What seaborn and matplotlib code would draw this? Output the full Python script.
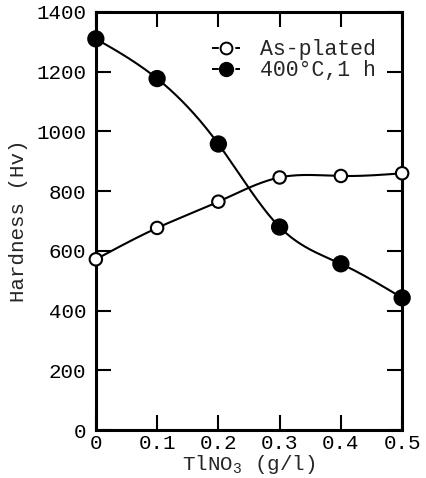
import numpy as np
import pandas as pd
import matplotlib
matplotlib.use("Agg")
import matplotlib.pyplot as plt
import seaborn as sns

conc = [0.0, 0.1, 0.2, 0.3, 0.4, 0.5]
as_plated = [572, 677, 765, 846, 851, 860]
annealed = [1310, 1177, 958, 680, 557, 443]
series_names = ["As-plated", "400°C,1 h"]


def smooth(x, y, n=200):
    # natural cubic spline, only used to draw the curve between the read points
    x = np.asarray(x, float)
    y = np.asarray(y, float)
    k = len(x)
    h = np.diff(x)
    A = np.zeros((k, k))
    b = np.zeros(k)
    A[0, 0] = A[-1, -1] = 1
    for i in range(1, k - 1):
        A[i, i - 1] = h[i - 1]
        A[i, i] = 2 * (h[i - 1] + h[i])
        A[i, i + 1] = h[i]
        b[i] = 6 * ((y[i + 1] - y[i]) / h[i] - (y[i] - y[i - 1]) / h[i - 1])
    m = np.linalg.solve(A, b)
    xs = np.linspace(x[0], x[-1], n)
    idx = np.clip(np.searchsorted(x, xs) - 1, 0, k - 2)
    x0, x1 = x[idx], x[idx + 1]
    hh = x1 - x0
    t0, t1 = x1 - xs, xs - x0
    ys = (m[idx] * t0 ** 3 + m[idx + 1] * t1 ** 3) / (6 * hh) \
        + (y[idx] / hh - m[idx] * hh / 6) * t0 + (y[idx + 1] / hh - m[idx + 1] * hh / 6) * t1
    return xs, ys


sns.set_style("ticks")
plt.rcParams["font.family"] = ["Liberation Mono", "DejaVu Sans"]
plt.rcParams["mathtext.fontset"] = "custom"
plt.rcParams["mathtext.rm"] = "Liberation Mono"

df = pd.DataFrame({
    "conc": conc * 2,
    "hv": as_plated + annealed,
    "series": [series_names[0]] * 6 + [series_names[1]] * 6,
})

fig = plt.figure(figsize=(4.26, 4.78), dpi=100)
ax = fig.add_axes([0.225, 0.100, 0.719, 0.875])

for yv in [as_plated, annealed]:
    xs, ys = smooth(conc, yv)
    ax.plot(xs, ys, color="black", lw=1.5, zorder=2)

sns.scatterplot(data=df, x="conc", y="hv", hue="series", size="series",
                palette={series_names[0]: "white", series_names[1]: "black"},
                sizes={series_names[0]: 80, series_names[1]: 120},
                edgecolor="black", linewidth=1.5, legend=False,
                clip_on=False, zorder=3, ax=ax)

ax.set_xlim(0, 0.5)
ax.set_ylim(0, 1400)
ax.set_xticks([0, 0.1, 0.2, 0.3, 0.4, 0.5])
ax.set_xticklabels(["0", "0.1", "0.2", "0.3", "0.4", "0.5"])
ax.set_yticks(range(0, 1401, 200))
ax.tick_params(direction="in", length=11, width=1.5, top=True, right=True,
               labelsize=15, colors="black")
ax.tick_params(axis="y", pad=7)
ax.tick_params(axis="x", pad=3)
for s in ax.spines.values():
    s.set_linewidth(2.2)
    s.set_color("black")

ax.set_xlabel("TlNO$_\\mathregular{3}$ (g/l)", fontsize=15, labelpad=0)
ax.set_ylabel("Hardness (Hv)", fontsize=15, labelpad=6)

handles = [
    plt.Line2D([], [], color="black", lw=1.4, ls=(0, (3.5, 8.5)), marker="o", markersize=8.5,
               markerfacecolor="white", markeredgecolor="black", markeredgewidth=1.4),
    plt.Line2D([], [], color="black", lw=1.4, ls=(0, (3.5, 8.5)), marker="o", markersize=10,
               markerfacecolor="black", markeredgecolor="black"),
]
ax.legend(handles, series_names, loc="upper left", bbox_to_anchor=(0.38, 0.935),
          frameon=False, fontsize=15.5, handlelength=1.3, handletextpad=0.9,
          labelspacing=0.0, borderaxespad=0, borderpad=0)

fig.savefig("out.png", dpi=100)
